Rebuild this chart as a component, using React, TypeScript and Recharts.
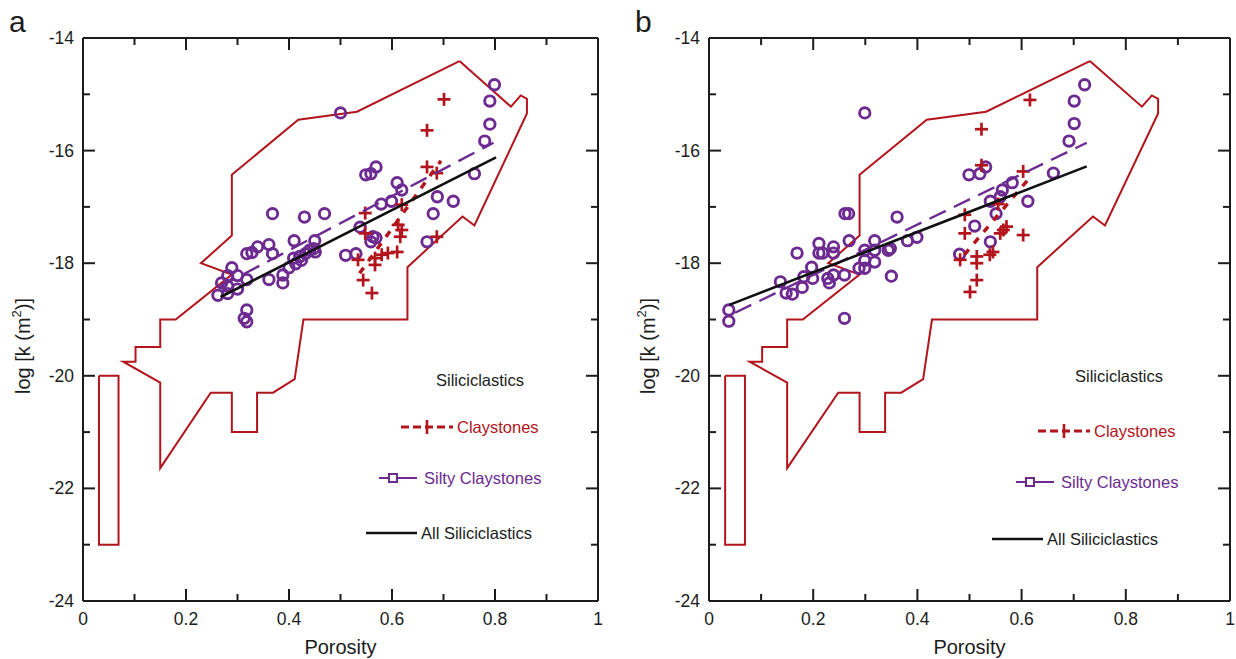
import React from 'react';
import { ScatterChart, Scatter, XAxis, YAxis } from 'recharts';

const FONT = '"Liberation Sans", Arial, Helvetica, sans-serif';
const RED = '#b3151d';
const PURPLE = '#6d2b91';
const INK = '#1c1c1c';

type Pt = [number, number];

const xTicks = [0, 0.1, 0.2, 0.3, 0.4, 0.5, 0.6, 0.7, 0.8, 0.9, 1];
const xLabelled = [0, 0.2, 0.4, 0.6, 0.8, 1];
const yTicks = [-24, -23, -22, -21, -20, -19, -18, -17, -16, -15, -14];
const yLabelled = [-24, -22, -20, -18, -16, -14];

// outline of the siliciclastics field (same in both panels)
const envelope: Pt[] = [
  [0.731, -14.41], [0.532, -15.31], [0.418, -15.45], [0.289, -16.43], [0.289, -17.51],
  [0.229, -18.0], [0.289, -18.2], [0.180, -19.0], [0.150, -19.0], [0.150, -19.49],
  [0.102, -19.49], [0.102, -19.75], [0.078, -19.75], [0.150, -20.12], [0.150, -21.64],
  [0.248, -20.3], [0.289, -20.3], [0.289, -21.0], [0.338, -21.0], [0.338, -20.3],
  [0.369, -20.3], [0.411, -20.06], [0.428, -19.0], [0.630, -19.0], [0.630, -18.07],
  [0.737, -17.17], [0.760, -17.33], [0.862, -15.34], [0.862, -15.08], [0.850, -15.02],
  [0.831, -15.22], [0.731, -14.41],
];
const envelopeBox: Pt[] = [[0.031, -20], [0.069, -20], [0.069, -23], [0.031, -23], [0.031, -20]];

// panel a
const siltyA: Pt[] = [
  [0.799, -14.83], [0.790, -15.12], [0.790, -15.53], [0.780, -15.83], [0.500, -15.33],
  [0.549, -16.43], [0.559, -16.41], [0.569, -16.29], [0.610, -16.57], [0.619, -16.70], [0.760, -16.41],
  [0.688, -16.82], [0.719, -16.90], [0.680, -17.12], [0.668, -17.62], [0.579, -16.95], [0.599, -16.90],
  [0.538, -17.36], [0.563, -17.53], [0.569, -17.55], [0.559, -17.62], [0.530, -17.83], [0.510, -17.86],
  [0.368, -17.12], [0.430, -17.18], [0.469, -17.12], [0.410, -17.60], [0.450, -17.60],
  [0.361, -17.67], [0.339, -17.71], [0.318, -17.83], [0.328, -17.81], [0.368, -17.83],
  [0.432, -17.83], [0.440, -17.77], [0.448, -17.74], [0.424, -17.95], [0.413, -18.01], [0.400, -18.08],
  [0.388, -18.21], [0.388, -18.35], [0.409, -17.91], [0.421, -17.88], [0.451, -17.80], [0.361, -18.29],
  [0.289, -18.08], [0.281, -18.22], [0.300, -18.22], [0.269, -18.35], [0.281, -18.41], [0.262, -18.57],
  [0.281, -18.54], [0.300, -18.46], [0.318, -18.29], [0.313, -18.98], [0.318, -18.83], [0.318, -19.04],
];
const clayA: Pt[] = [
  [0.701, -15.09], [0.668, -15.64], [0.668, -16.29], [0.687, -16.40], [0.619, -16.96], [0.548, -17.11],
  [0.548, -17.47], [0.612, -17.32], [0.619, -17.41], [0.616, -17.53], [0.687, -17.53], [0.610, -17.80],
  [0.592, -17.82], [0.580, -17.85], [0.567, -17.91], [0.534, -17.94], [0.567, -18.03], [0.544, -18.30],
  [0.561, -18.53],
];
const allFitA: Pt[] = [[0.267, -18.6], [0.802, -16.12]];
const siltyFitA: Pt[] = [[0.265, -18.42], [0.797, -15.86]];
const clayFitA: Pt[] = [[0.537, -18.18], [0.695, -16.18]];

// panel b
const siltyB: Pt[] = [
  [0.721, -14.83], [0.701, -15.12], [0.701, -15.52], [0.691, -15.83], [0.299, -15.33],
  [0.499, -16.43], [0.520, -16.41], [0.531, -16.29], [0.661, -16.40],
  [0.582, -16.57], [0.563, -16.70], [0.559, -16.82], [0.540, -16.90], [0.612, -16.90],
  [0.551, -17.12], [0.510, -17.34], [0.540, -17.62], [0.481, -17.84],
  [0.261, -17.12], [0.268, -17.12], [0.361, -17.18], [0.269, -17.60], [0.169, -17.82],
  [0.211, -17.65], [0.211, -17.82], [0.218, -17.82], [0.239, -17.71], [0.239, -17.82],
  [0.318, -17.60], [0.318, -17.77], [0.299, -17.77], [0.299, -17.95], [0.318, -17.98],
  [0.344, -17.77], [0.348, -17.74], [0.381, -17.60], [0.399, -17.54],
  [0.288, -18.09], [0.299, -18.09], [0.260, -18.21], [0.239, -18.21], [0.228, -18.27], [0.231, -18.35],
  [0.197, -18.07], [0.199, -18.27], [0.182, -18.24], [0.137, -18.33], [0.148, -18.53], [0.160, -18.55],
  [0.179, -18.43], [0.350, -18.23], [0.260, -18.98], [0.038, -18.83], [0.038, -19.03],
];
const clayB: Pt[] = [
  [0.616, -15.10], [0.523, -15.62], [0.523, -16.26], [0.603, -16.37], [0.555, -16.95], [0.491, -17.14],
  [0.491, -17.47], [0.571, -17.35], [0.565, -17.41], [0.559, -17.47], [0.603, -17.50], [0.545, -17.80],
  [0.539, -17.85], [0.514, -17.88], [0.514, -18.00], [0.482, -17.94], [0.514, -18.30], [0.501, -18.51],
];
const allFitB: Pt[] = [[0.039, -18.74], [0.725, -16.28]];
const siltyFitB: Pt[] = [[0.05, -18.88], [0.725, -15.86]];
const clayFitB: Pt[] = [[0.49, -17.85], [0.612, -16.52]];

const pts = (a: Pt[]) => a.map(([x, y]) => ({ x, y }));
const fmt = (v: number) => String(Math.round(v * 10) / 10);
const isMajor = (v: number, list: number[]) => list.some((m) => Math.abs(m - v) < 1e-6);

const Cross = (p: any) => (
  <g stroke={RED} strokeWidth={2.7}>
    <line x1={p.cx - 6.5} x2={p.cx + 6.5} y1={p.cy} y2={p.cy} />
    <line x1={p.cx} x2={p.cx} y1={p.cy - 6.5} y2={p.cy + 6.5} />
  </g>
);
const Ring = (p: any) => <circle cx={p.cx} cy={p.cy} r={5.2} fill="none" stroke={PURPLE} strokeWidth={2.9} />;
const NoDot = () => <g />;

const BottomTick = (p: any) => {
  const major = isMajor(p.payload.value, xLabelled);
  return (
    <g>
      <line x1={p.x} x2={p.x} y1={p.y} y2={p.y - (major ? 12 : 7)} stroke={INK} strokeWidth={2} />
      {major && (
        <text x={p.x} y={p.y + 24} textAnchor="middle" fontSize={17.5} fontFamily={FONT} fill={INK}>
          {fmt(p.payload.value)}
        </text>
      )}
    </g>
  );
};
const TopTick = (p: any) => {
  const major = isMajor(p.payload.value, xLabelled);
  return <line x1={p.x} x2={p.x} y1={p.y} y2={p.y + (major ? 12 : 7)} stroke={INK} strokeWidth={2} />;
};
const LeftTick = (p: any) => {
  const major = isMajor(p.payload.value, yLabelled);
  return (
    <g>
      <line x1={p.x} x2={p.x + (major ? 12 : 7)} y1={p.y} y2={p.y} stroke={INK} strokeWidth={2} />
      {major && (
        <text x={p.x - 9} y={p.y + 6} textAnchor="end" fontSize={17.5} fontFamily={FONT} fill={INK}>
          {fmt(p.payload.value)}
        </text>
      )}
    </g>
  );
};
const RightTick = (p: any) => {
  const major = isMajor(p.payload.value, yLabelled);
  return <line x1={p.x} x2={p.x - (major ? 12 : 7)} y1={p.y} y2={p.y} stroke={INK} strokeWidth={2} />;
};

interface LegendPos {
  title: number; titleY: number;
  clayX: number; clayY: number;
  siltyX: number; siltyY: number;
  allX: number; allY: number;
}

interface PanelProps {
  letter: string;
  width: number;
  plotLeft: number;
  plotRight: number;
  silty: Pt[];
  clay: Pt[];
  allFit: Pt[];
  siltyFit: Pt[];
  clayFit: Pt[];
  yTitleX: number;
  legend: LegendPos;
}

function Panel({ letter, width, plotLeft, plotRight, silty, clay, allFit, siltyFit, clayFit, yTitleX, legend }: PanelProps) {
  const H = 659;
  const axisLine = { stroke: INK, strokeWidth: 2 };
  const txt = { fontFamily: FONT, fontSize: 16.5 };
  const L = legend;
  return (
    <div style={{ position: 'relative', width, height: H }}>
      <ScatterChart width={width} height={H} margin={{ top: 37, right: width - plotRight - 1, bottom: 0, left: 0 }}>
        <XAxis type="number" dataKey="x" domain={[0, 1]} ticks={xTicks} allowDataOverflow height={58}
          axisLine={axisLine} tickLine={false} tickSize={0} tickMargin={0} tick={BottomTick} interval={0} />
        <XAxis xAxisId="top" orientation="top" type="number" dataKey="x" domain={[0, 1]} ticks={xTicks} allowDataOverflow
          height={1} axisLine={axisLine} tickLine={false} tickSize={0} tickMargin={0} tick={TopTick} interval={0} />
        <YAxis type="number" dataKey="y" domain={[-24, -14]} ticks={yTicks} allowDataOverflow width={plotLeft}
          axisLine={axisLine} tickLine={false} tickSize={0} tickMargin={0} tick={LeftTick} interval={0} />
        <YAxis yAxisId="right" orientation="right" type="number" dataKey="y" domain={[-24, -14]} ticks={yTicks}
          allowDataOverflow width={1} axisLine={axisLine} tickLine={false} tickSize={0} tickMargin={0} tick={RightTick} interval={0} />

        <Scatter data={pts(envelope)} shape={NoDot} line={{ stroke: RED, strokeWidth: 2 }} isAnimationActive={false} />
        <Scatter data={pts(envelopeBox)} shape={NoDot} line={{ stroke: RED, strokeWidth: 2 }} isAnimationActive={false} />
        <Scatter data={pts(silty)} shape={Ring} isAnimationActive={false} />
        <Scatter data={pts(clay)} shape={Cross} isAnimationActive={false} />
        <Scatter data={pts(clayFit)} shape={NoDot}
          line={{ stroke: RED, strokeWidth: 3.5, strokeDasharray: '7 8' }} isAnimationActive={false} />
        <Scatter data={pts(siltyFit)} shape={NoDot}
          line={{ stroke: PURPLE, strokeWidth: 2.4, strokeDasharray: '18 9' }} isAnimationActive={false} />
        <Scatter data={pts(allFit)} shape={NoDot} line={{ stroke: '#111', strokeWidth: 2.6 }} isAnimationActive={false} />
      </ScatterChart>

      <svg width={width} height={H} style={{ position: 'absolute', left: 0, top: 0, pointerEvents: 'none' }}>
        <text x={plotLeft - 74} y={32} fontFamily={FONT} fontSize={30} fill={INK}>{letter}</text>
        <text x={(plotLeft + plotRight) / 2} y={654} textAnchor="middle" fontFamily={FONT} fontSize={20} fill={INK}>Porosity</text>
        <text transform={`translate(${yTitleX},346) rotate(-90)`} textAnchor="middle" dominantBaseline="central"
          fontFamily={FONT} fontSize={20} fill={INK}>
          log [k (m<tspan dy={-7} fontSize={13}>2</tspan><tspan dy={7}>)]</tspan>
        </text>

        {/* legend */}
        <text x={L.title} y={L.titleY + 6} textAnchor="middle" {...txt} fill={INK}>Siliciclastics</text>

        <line x1={L.clayX} x2={L.clayX + 52} y1={L.clayY} y2={L.clayY} stroke={RED} strokeWidth={3} strokeDasharray="8 4" />
        <line x1={L.clayX + 26} x2={L.clayX + 26} y1={L.clayY - 7} y2={L.clayY + 7} stroke={RED} strokeWidth={2.6} />
        <text x={L.clayX + 56} y={L.clayY + 6} {...txt} fill={RED}>Claystones</text>

        <line x1={L.siltyX} x2={L.siltyX + 38} y1={L.siltyY} y2={L.siltyY} stroke={PURPLE} strokeWidth={2.2} />
        <rect x={L.siltyX + 10} y={L.siltyY - 4} width={8} height={8} fill="#fff" stroke={PURPLE} strokeWidth={2} />
        <text x={L.siltyX + 45} y={L.siltyY + 6} {...txt} fill={PURPLE}>Silty Claystones</text>

        <line x1={L.allX} x2={L.allX + 51} y1={L.allY} y2={L.allY} stroke="#111" strokeWidth={2.4} />
        <text x={L.allX + 55} y={L.allY + 6} {...txt} fill={INK}>All Siliciclastics</text>
      </svg>
    </div>
  );
}

export default function App() {
  return (
    <div style={{ position: 'fixed', left: 0, top: 0, width: 1236, height: 659, background: '#fff', display: 'flex' }}>
      <Panel letter="a" width={620} plotLeft={83} plotRight={598}
        silty={siltyA} clay={clayA} allFit={allFitA} siltyFit={siltyFitA} clayFit={clayFitA} yTitleX={23}
        legend={{ title: 480, titleY: 380, clayX: 401, clayY: 427, siltyX: 379, siltyY: 478, allX: 366, allY: 533 }} />
      <Panel letter="b" width={616} plotLeft={89} plotRight={610}
        silty={siltyB} clay={clayB} allFit={allFitB} siltyFit={siltyFitB} clayFit={clayFitB} yTitleX={28}
        legend={{ title: 499, titleY: 376, clayX: 418, clayY: 431, siltyX: 396, siltyY: 482, allX: 372, allY: 539 }} />
    </div>
  );
}
